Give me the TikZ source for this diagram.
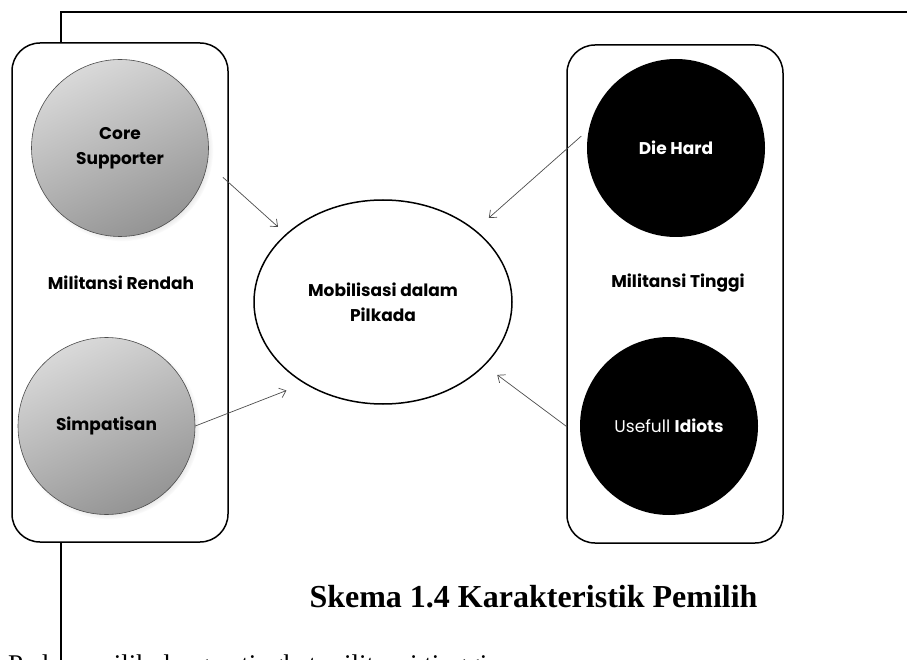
\documentclass[tikz,border=0pt]{standalone}
\usepackage{fontspec}
\setmainfont{Liberation Serif}
\newfontfamily\labelfont{Poppins}
\usetikzlibrary{calc,arrows.meta,positioning,shapes.geometric,shadows}

\begin{document}
\begin{tikzpicture}[x=1pt,y=-1pt,
  group/.style={draw,line width=1.5pt,rounded corners=28pt},
  greyball/.style={circle,draw=black!70,line width=0.6pt,minimum size=177pt,inner sep=0pt,
    shading=axis,top color=black!15,bottom color=black!42,shading angle=25,
    circular drop shadow={shadow xshift=2pt,shadow yshift=-2pt,shadow scale=1.03,opacity=.4},
    align=center,font=\labelfont\bfseries\fontsize{17}{25}\selectfont},
  blackball/.style={circle,fill=black,minimum size=178pt,inner sep=0pt,text=white,
    align=center,font=\labelfont\fontsize{17}{25}\selectfont},
  link/.style={draw=black!70,line width=0.7pt,-{Straight Barb[length=6pt,width=10pt]}},
  lbl/.style={font=\labelfont\bfseries\fontsize{17}{20}\selectfont}]
  \useasboundingbox (0,0) rectangle (907,660);
  \draw[line width=1.3pt] (61,43)--(61,12)--(907,12);
  \draw[line width=1.3pt] (61,542)--(61,660);
  \draw[group] (12,43) rectangle (228,542);
  \draw[group] (567,45) rectangle (783,543);
  \node[greyball] (core) at (120,148) {Core\\Supporter};
  \node[greyball] (simp) at (106.5,426) {Simpatisan};
  \node[blackball,font=\labelfont\bfseries\fontsize{17}{25}\selectfont] (die) at (676,148) {Die Hard};
  \node[blackball] (idiot) at (669,426) {Usefull \textbf{Idiots}};
  \node[lbl] (rendah) at (121,283) {Militansi Rendah};
  \node[lbl] (tinggi) at (678,283) {Militansi Tinggi};
  \node[ellipse,draw,line width=1.5pt,minimum width=258pt,minimum height=204pt,inner sep=0pt,
    align=center,font=\labelfont\bfseries\fontsize{17}{25}\selectfont] (mob) at (383,302)
    {Mobilisasi dalam\\Pilkada};
  \draw[link,shorten <=20.8pt,shorten >=10.5pt] (core.-10.5)--(mob.145.4);
  \draw[link,shorten >=19pt] (simp.east)--(mob.-134);
  \draw[link,shorten <=10pt,shorten >=18pt] (die.168.9)--(mob.38.3);
  \draw[link,shorten <=16.7pt,shorten >=15.5pt] (idiot.-173.7)--(mob.-32.5);
  \node[anchor=base,font=\bfseries\fontsize{32}{38}\selectfont] (caption) at (533.5,607)
    {Skema 1.4 Karakteristik Pemilih};
  \begin{scope}
    \clip (0,0) rectangle (907,660);
    \node[anchor=base west,inner sep=0pt,font=\fontsize{27}{32}\selectfont] (para) at (8,673)
      {Pada pemilih dengan tingkat militansi tinggi};
  \end{scope}
\end{tikzpicture}
\end{document}
